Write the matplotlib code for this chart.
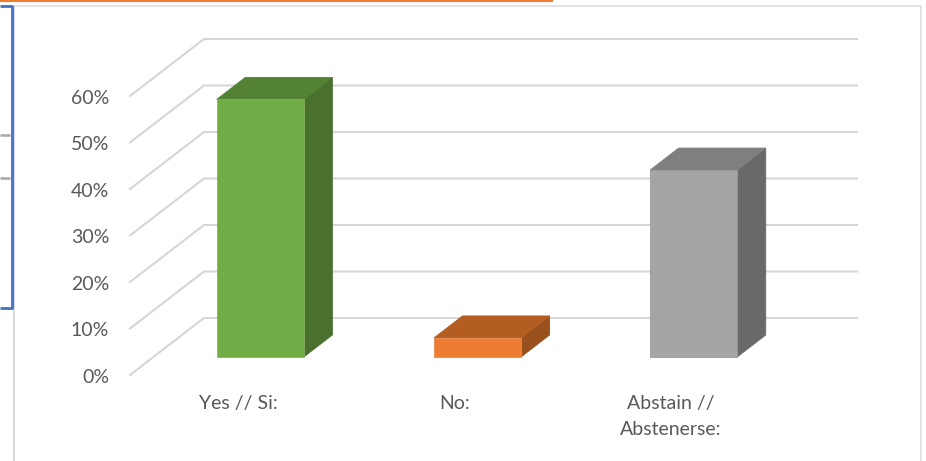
#!/usr/bin/env python3
"""Recreate the 3D-look column chart (Yes / No / Abstain vote shares)."""

import matplotlib
matplotlib.use("Agg")
import matplotlib.pyplot as plt
from matplotlib.lines import Line2D
from matplotlib.patches import Polygon
from matplotlib.transforms import Affine2D, IdentityTransform

# === DATA ===
CATEGORIES = ["Yes // Si:", "No:", "Abstain //\nAbstenerse:"]
VALUES = [55.4, 4.1, 40.2]
Y_TICKS = [0, 10, 20, 30, 40, 50, 60]

# === STYLE ===
W, H = 926, 461
FRONT_COLORS = ["#70AD47", "#ED7D31", "#A5A5A5"]
TOP_COLORS = ["#548235", "#B35D22", "#7F7F7F"]
SIDE_COLORS = ["#49702C", "#9A501C", "#696969"]
EDGE_COLORS = ["#86B066", "#E58A4C", "#9A9A9A"]
GRID_COLOR = "#D6D6D6"
TEXT_COLOR = "#595959"
BAR_WIDTH = 0.4
BAR_SHIFT = [-0.009, -0.011, -0.018]
# floor depth in pixels, bars sit part way into it
DEPTH = (74, 57)
BAR_START = 0.316
BAR_DEPTH = 0.386
# small nudges of the category labels, in pixels
LABEL_NUDGE = [0, -2, -3]

plt.rcParams["font.family"] = ["Lato", "DejaVu Sans"]


def px_line(fig, xs, ys, color, lw):
    """Line on the figure, given in image pixels from the top left."""
    fig.add_artist(Line2D([x / W for x in xs], [1 - y / H for y in ys],
                          color=color, linewidth=lw, solid_capstyle="butt"))


def project(ax, x, y, depth):
    """Data position pushed back by a fraction of the floor depth, in display pixels."""
    dx, dy = ax.transData.transform((x, y))
    return dx + depth * DEPTH[0], dy + depth * DEPTH[1]


def face(ax, corners, color, edge, zorder):
    pts = [project(ax, *c) for c in corners]
    ax.add_patch(Polygon(pts, closed=True, facecolor=color, edgecolor=edge, linewidth=0.6,
                         transform=IdentityTransform(), clip_on=False, zorder=zorder))


fig = plt.figure(figsize=(W / 100, H / 100), dpi=100)
ax = fig.add_axes([130 / W, 1 - 375 / H, (783 - 130) / W, (375 - 96) / H])
ax.set_xlim(-0.5, 2.5)
ax.set_ylim(0, 60)
ax.patch.set_visible(False)
for spine in ax.spines.values():
    spine.set_visible(False)

ax.set_yticks(Y_TICKS)
ax.set_yticklabels([f"{v}%" for v in Y_TICKS])
ax.set_xticks(range(len(CATEGORIES)))
ax.set_xticklabels(CATEGORIES, linespacing=1.65)
ax.tick_params(axis="y", length=0, pad=15, labelsize=14, labelcolor=TEXT_COLOR)
ax.tick_params(axis="x", length=0, pad=14.5, labelsize=14, labelcolor=TEXT_COLOR)

for label in ax.get_yticklabels():
    label.set_transform(label.get_transform() + Affine2D().translate(0, -0.8))
for label, nudge in zip(ax.get_xticklabels(), LABEL_NUDGE):
    label.set_transform(label.get_transform() + Affine2D().translate(nudge, 0))

# Side wall and back wall grid lines
for v in Y_TICKS:
    x0, y0 = project(ax, -0.5, v, 0)
    x1, y1 = project(ax, -0.5, v, 1)
    x2, y2 = project(ax, 2.5, v, 1)
    ax.add_line(Line2D([x0, x1, x2], [y0, y1, y2], color=GRID_COLOR, linewidth=1.5,
                       transform=IdentityTransform(), clip_on=False, zorder=1))

# Columns
for i, value in enumerate(VALUES):
    left, right = i + BAR_SHIFT[i] - BAR_WIDTH / 2, i + BAR_SHIFT[i] + BAR_WIDTH / 2
    d0, d1 = BAR_START, BAR_START + BAR_DEPTH
    face(ax, [(right, 0, d0), (right, 0, d1), (right, value, d1), (right, value, d0)],
         SIDE_COLORS[i], SIDE_COLORS[i], 3)
    face(ax, [(left, value, d0), (right, value, d0), (right, value, d1), (left, value, d1)],
         TOP_COLORS[i], TOP_COLORS[i], 3)
    face(ax, [(left, 0, d0), (right, 0, d0), (right, value, d0), (left, value, d0)],
         FRONT_COLORS[i], EDGE_COLORS[i], 4)

# Page pieces around the chart
px_line(fig, [14.5, 14.5], [461, 6], "#D9D9D9", 1.5)
px_line(fig, [14.5, 921, 921], [6, 6, 461], "#DEDEDE", 1.2)
px_line(fig, [0, 553], [0.8, 0.8], "#ED7D31", 1.5)
px_line(fig, [0, 12, 12, 0], [6, 6, 308, 308], "#4472C4", 2)
px_line(fig, [0, 10], [135, 135], "#A6A6A6", 1.8)
px_line(fig, [0, 10], [178, 178], "#A6A6A6", 1.8)

fig.savefig("out.png", dpi=100)
